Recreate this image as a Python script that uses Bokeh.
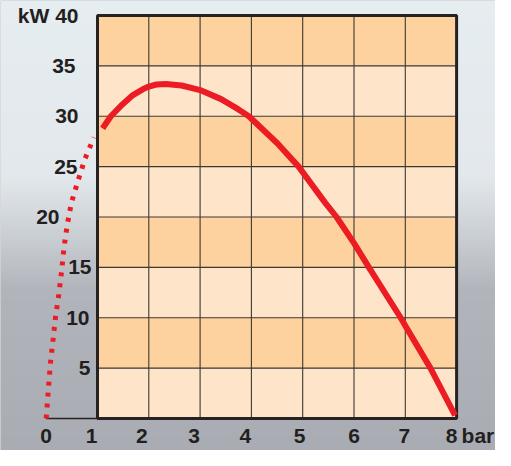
import numpy as np
from bokeh.plotting import figure
from bokeh.models import Range1d
from bokeh.core.properties import value
from bokeh.embed import file_html
from bokeh.resources import INLINE

# ---------------- data ----------------
pressure_solid = [1.10, 1.26, 1.49, 1.69, 1.89, 2.0, 2.15, 2.33, 2.64, 3.0, 3.41, 3.74, 3.95,
                  4.51, 4.92, 5.44, 5.66, 6.0, 6.29, 6.91, 7.0, 7.49, 7.97]
power_solid = [28.8, 30.0, 31.2, 32.1, 32.7, 32.95, 33.15, 33.2, 33.05, 32.6, 31.7, 30.7, 30.0,
               27.3, 25.0, 21.4, 20.0, 17.4, 15.0, 10.0, 9.2, 5.0, 0.3]

pressure_dotted = [0, 0.05, 0.085, 0.135, 0.18, 0.245, 0.30, 0.345, 0.41, 0.49, 0.62, 0.75, 0.93]
power_dotted = [0, 3.4, 5.6, 7.9, 10.0, 12.3, 14.6, 16.9, 19.2, 21.4, 23.6, 25.7, 27.9]

x_ticks = [0, 1, 2, 3, 4, 5, 6, 7, 8]
x_tick_labels = ["0", "1", "2", "3", "4", "5", "6", "7", "8"]
x_unit = "bar"
y_ticks = [5, 10, 15, 20, 25, 30, 35, 40]
y_tick_labels = ["5", "10", "15", "20", "25", "30", "35", "kW 40"]

x_min_panel, x_max_panel = 1, 8
y_min_panel, y_max_panel = 0, 40
row_step = 5

# ---------------- styles ----------------
W, H = 495, 450
FONT = value("Liberation Sans")
TXT = "#231F20"
ROW_DARK = "#FDD29E"
ROW_LIGHT = "#FEE5CA"
GRID = "#3E3833"
FRAME = "#262222"
RED = "#EC1C24"
FS = "21px"
x_label_dx = [0, -6, -7, -6, -6, -3, 0, -1, -5]
y_label_dx = [-7, -8, -6, -38, -20, -19, -22, -19]
x_label_dy = 17

# axis ranges chosen so that the plot maps to the reference's pixel layout
px_per_x, px_x0 = 51.3, 45.7
px_y0 = 418.0
px_per_y = (px_y0 - 15.0) / 40.0
x0, x1 = (0 - px_x0) / px_per_x, (W - px_x0) / px_per_x
y1, y0 = (px_y0 - 0) / px_per_y, (px_y0 - H) / px_per_y

p = figure(width=W, height=H, x_range=Range1d(x0, x1), y_range=Range1d(y0, y1),
           output_backend="svg", toolbar_location=None, min_border=0,
           x_axis_location=None, y_axis_location=None)
p.grid.visible = False
p.outline_line_color = None
p.background_fill_color = "#A9ADB3"
p.border_fill_color = "#A9ADB3"

# ---- background vertical gradient (decorative) ----
stops_py = [0, 175, 232, 290, 466]
stops_rgb = [(0xE6, 0xED, 0xF0), (0xE2, 0xE8, 0xEB), (0xCB, 0xD0, 0xD5), (0xB1, 0xB5, 0xBB), (0xA8, 0xAC, 0xB2)]
band = 2
tops, bottoms, cols = [], [], []
for fy in range(0, H, band):
    py = fy + band / 2
    r = np.interp(py, stops_py, [c[0] for c in stops_rgb])
    g = np.interp(py, stops_py, [c[1] for c in stops_rgb])
    b = np.interp(py, stops_py, [c[2] for c in stops_rgb])
    cols.append("#%02x%02x%02x" % (int(round(r)), int(round(g)), int(round(b))))
    tops.append(y1 - (y1 - y0) * fy / H)
    bottoms.append(y1 - (y1 - y0) * (fy + band + 0.5) / H)
p.quad(left=x0, right=x1, top=tops, bottom=bottoms, fill_color=cols, line_color=None)

# ---- striped panel rows ----
row_bottoms = list(range(y_min_panel, y_max_panel, row_step))
row_cols = [ROW_LIGHT if (i % 2 == 0) else ROW_DARK for i in range(len(row_bottoms))]
p.quad(left=x_min_panel, right=x_max_panel, bottom=row_bottoms,
       top=[b + row_step for b in row_bottoms], fill_color=row_cols, line_color=None)

# ---- grid lines ----
vx = [t for t in x_ticks if x_min_panel < t < x_max_panel]
p.segment(x0=vx, x1=vx, y0=y_min_panel, y1=y_max_panel, line_color=GRID, line_width=1.1)
hy = [t for t in y_ticks if y_min_panel < t < y_max_panel]
p.segment(x0=x_min_panel, x1=x_max_panel, y0=hy, y1=hy, line_color=GRID, line_width=1.1)

# ---- frame ----
p.quad(left=x_min_panel, right=x_max_panel, bottom=y_min_panel, top=y_max_panel,
       fill_color=None, line_color=FRAME, line_width=3)
# baseline from 0 to 1
p.segment(x0=x_ticks[0], x1=x_min_panel, y0=0, y1=0, line_color=FRAME, line_width=1.5)

# ---- curves ----
p.line(pressure_dotted, power_dotted, line_color=RED, line_width=5, line_dash="4 7")
p.line(pressure_solid, power_solid, line_color=RED, line_width=6, line_join="round")

# ---- tick labels ----
p.text(x=x_ticks, y=[0] * len(x_ticks), text=x_tick_labels, x_offset=x_label_dx, y_offset=x_label_dy,
       text_align="center", text_baseline="middle", text_font=FONT, text_font_style="bold",
       text_font_size=FS, text_color=TXT)
p.text(x=[x_ticks[-1]], y=[0], text=[x_unit], x_offset=5, y_offset=x_label_dy,
       text_align="left", text_baseline="middle", text_font=FONT, text_font_style="bold",
       text_font_size=FS, text_color=TXT)
p.text(x=[x_min_panel] * len(y_ticks), y=y_ticks, text=y_tick_labels, x_offset=y_label_dx,
       text_align="right", text_baseline="middle", text_font=FONT, text_font_style="bold",
       text_font_size=FS, text_color=TXT)

open("out.html", "w").write(file_html(p, INLINE))
